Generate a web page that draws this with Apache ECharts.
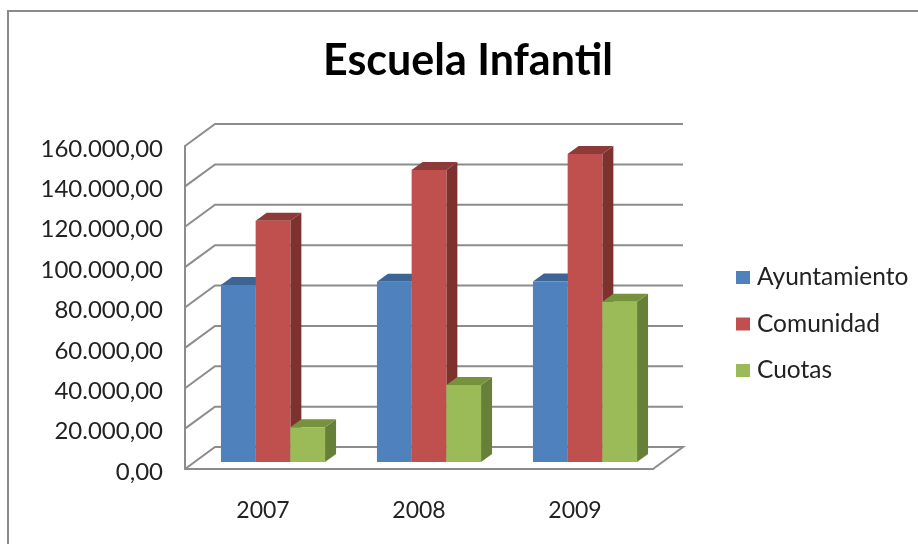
<!DOCTYPE html>
<html>
<head>
<meta charset="utf-8">
<script src="https://cdn.jsdelivr.net/npm/echarts@6/dist/echarts.min.js"></script>
<style>
html, body { margin: 0; padding: 0; background: #fff; }
#chart { width: 918px; height: 544px; }
</style>
</head>
<body>
<div id="chart"></div>
<script>
var years = ['2007', '2008', '2009'];
var ayuntamiento = [87700, 89300, 89400];
var comunidad = [119500, 144600, 152600];
var cuotas = [17200, 38100, 79400];
var yTicks = [0, 20000, 40000, 60000, 80000, 100000, 120000, 140000, 160000];

var lineColor = '#8c8c8c';
var fontName = 'Lato';
// 3D look: how far the back wall and the bars are pushed back
var wallDx = 30, wallDy = -22;
var barDx = 10, barDy = -7, sideDx = 11, sideDy = -8;
var barRatio = 0.2225;

function yLabel(v) {
    return '{v|' + (v === 0 ? '0,00' : (v / 1000) + '.000,00') + '}';
}

function renderWall(params, api) {
    var v = api.value(0);
    var y = api.coord([0, v])[1];
    var g = params.coordSys;
    var points = [[g.x, y], [g.x + wallDx, y + wallDy], [g.x + g.width + wallDx, y + wallDy]];
    if (v === 0) {
        points.push([g.x + g.width, y]);
    }
    return {
        type: 'polyline',
        shape: { points: points },
        style: { stroke: lineColor, lineWidth: 2, fill: null },
        silent: true
    };
}

function barRenderer(pos, front, top, side) {
    return function (params, api) {
        var p = api.coord([api.value(0), api.value(1)]);
        var base = api.coord([api.value(0), 0]);
        var w = api.size([1, 0])[0] * barRatio;
        var x0 = p[0] + barDx + (pos - 1.5) * w;
        var x1 = x0 + w;
        var yt = p[1] + barDy;
        var yb = base[1] + barDy;
        return {
            type: 'group',
            children: [
                { type: 'polygon', shape: { points: [[x1, yt], [x1 + sideDx, yt + sideDy], [x1 + sideDx, yb + sideDy], [x1, yb]] }, style: { fill: side } },
                { type: 'polygon', shape: { points: [[x0, yt], [x0 + sideDx, yt + sideDy], [x1 + sideDx, yt + sideDy], [x1, yt]] }, style: { fill: top } },
                { type: 'rect', shape: { x: x0, y: yt, width: w, height: yb - yt }, style: { fill: front } }
            ]
        };
    };
}

function toPoints(values) {
    return values.map(function (v, i) { return [i, v]; });
}

var myChart = echarts.init(document.getElementById('chart'), null, { renderer: 'canvas' });
var option = {
    backgroundColor: '#fff',
    animation: false,
    title: {
        text: 'Escuela Infantil',
        left: 463,
        top: 35,
        textAlign: 'center',
        textStyle: { fontFamily: fontName, fontSize: 43, fontWeight: 'bold', color: '#000' }
    },
    graphic: [{
        type: 'rect',
        shape: { x: 8, y: 11, width: 940, height: 560 },
        style: { fill: null, stroke: '#8a8a8a', lineWidth: 2 },
        silent: true
    }],
    legend: {
        orient: 'vertical',
        left: 731,
        top: 260,
        itemWidth: 14,
        itemHeight: 13,
        itemGap: 21.5,
        icon: 'rect',
        data: ['Ayuntamiento', 'Comunidad', 'Cuotas'],
        textStyle: { fontFamily: fontName, fontSize: 24.5, color: '#222', padding: [0, 0, 0, 2] }
    },
    grid: { left: 185, top: 146, width: 468, height: 323 },
    xAxis: {
        type: 'category',
        data: years,
        axisLine: { lineStyle: { color: lineColor, width: 2 } },
        axisTick: { show: false },
        axisLabel: { margin: 30, fontFamily: fontName, fontSize: 23, color: '#222' }
    },
    yAxis: {
        type: 'value',
        min: 0,
        max: 160000,
        interval: 20000,
        axisLine: { show: true, lineStyle: { color: lineColor, width: 2 } },
        axisTick: { show: false },
        splitLine: { show: false },
        axisLabel: {
            margin: 22,
            formatter: yLabel,
            rich: { v: { fontFamily: fontName, fontSize: 24, color: '#222', padding: [6, 0, 0, 0] } }
        }
    },
    series: [
        { type: 'custom', renderItem: renderWall, data: yTicks, z: 1, silent: true, clip: false, encode: { y: 0 } },
        { name: 'Ayuntamiento', type: 'custom', renderItem: barRenderer(0, '#4f81bd', '#3c6494', '#3c6494'), data: toPoints(ayuntamiento), itemStyle: { color: '#4f81bd' }, z: 2 },
        { name: 'Comunidad', type: 'custom', renderItem: barRenderer(1, '#c0504d', '#8e3a38', '#7d3230'), data: toPoints(comunidad), itemStyle: { color: '#c0504d' }, z: 2 },
        { name: 'Cuotas', type: 'custom', renderItem: barRenderer(2, '#9bbb59', '#76923c', '#66803a'), data: toPoints(cuotas), itemStyle: { color: '#9bbb59' }, z: 2 }
    ]
};
myChart.setOption(option);
</script>
</body>
</html>
